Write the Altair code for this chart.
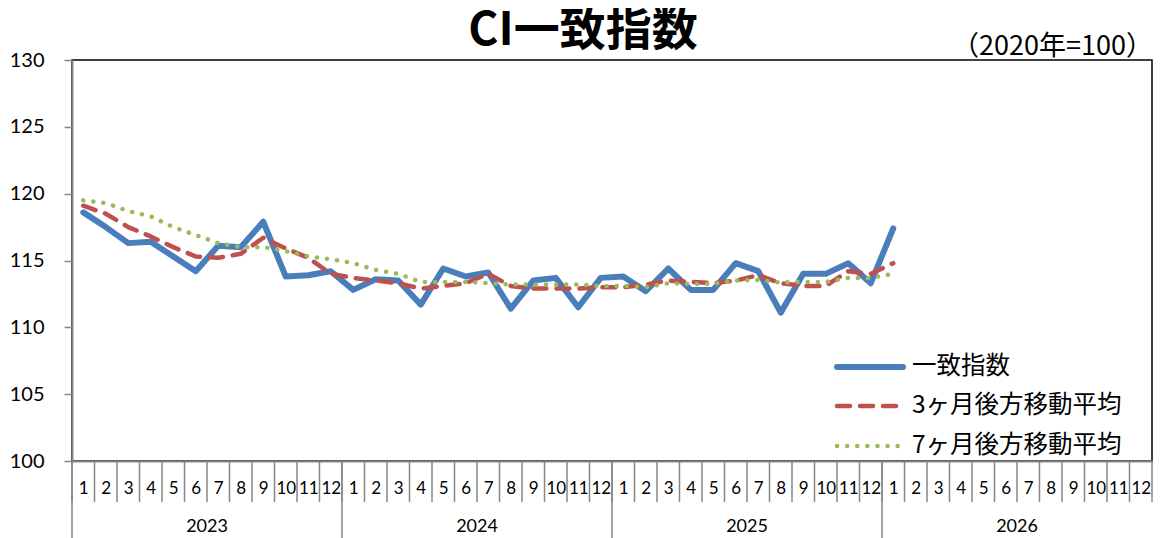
import altair as alt
import pandas as pd

# ---------------- data ----------------
years = [2023, 2024, 2025, 2026]
month_numbers = list(range(1, 13))
series_names = ["一致指数", "3ヶ月後方移動平均", "7ヶ月後方移動平均"]

ci_index = [118.6, 117.5, 116.3, 116.4, 115.3, 114.2, 116.1, 116.0, 117.9, 113.8, 113.9, 114.2,
            112.8, 113.6, 113.5, 111.7, 114.4, 113.8, 114.1, 111.4, 113.5, 113.7, 111.5, 113.7,
            113.8, 112.7, 114.4, 112.8, 112.8, 114.8, 114.2, 111.1, 114.0, 114.0, 114.8, 113.3,
            117.4]
ma3 = [119.1, 118.5, 117.5, 116.8, 116.0, 115.3, 115.2, 115.5, 116.7, 115.9, 115.2, 114.0,
       113.7, 113.5, 113.3, 112.9, 113.1, 113.3, 114.0, 113.1, 112.9, 112.9, 112.9, 113.0,
       113.0, 113.2, 113.5, 113.4, 113.3, 113.5, 113.9, 113.3, 113.1, 113.1, 114.2, 114.0,
       114.8]
ma7 = [119.5, 119.3, 118.7, 118.3, 117.5, 116.9, 116.3, 116.0, 116.0, 115.7, 115.3, 115.1,
       114.8, 114.3, 114.0, 113.4, 113.4, 113.4, 113.3, 113.2, 113.2, 113.2, 113.2, 113.1,
       113.1, 113.0, 113.3, 113.25, 113.25, 113.5, 113.55, 113.35, 113.4, 113.4, 113.7, 113.7,
       114.0]

title_text = "CI一致指数"
unit_text = "（2020年=100）"
y_ticks = [100, 105, 110, 115, 120, 125, 130]

rows = []
for name, vals in zip(series_names, [ci_index, ma3, ma7]):
    for i, v in enumerate(vals):
        rows.append({"series": name, "idx": i, "value": v})
df = pd.DataFrame(rows)

n_months = len(years) * len(month_numbers)
bounds_df = pd.DataFrame({"b": list(range(n_months + 1))})
year_df = pd.DataFrame({"year": [str(y) for y in years], "k": list(range(len(years)))})

# ---------------- styling ----------------
W, H = 1080, 401
GRAY = "#868686"
JP = "Noto Sans CJK JP"
NUM = "Lato"
colors = ["#4A7EBB", "#C0504D", "#9BBB59"]
widths = [6, 4.5, 4.5]
dashes = [None, [13, 10], [0.1, 10]]

xscale = alt.Scale(domain=[0, n_months], nice=False, zero=False)
yscale = alt.Scale(domain=[100, 130], nice=False, zero=False)

xaxis = alt.Axis(values=[i + 0.5 for i in range(n_months)],
                 labelExpr="(floor(datum.value) % 12) + 1",
                 ticks=False, grid=False, domainColor=GRAY, domainWidth=2,
                 labelFont=NUM, labelFontSize=17, labelColor="black",
                 labelPadding=19, labelAngle=0, labelFlush=False,
                 labelOverlap=False, title=None)
yaxis = alt.Axis(values=y_ticks, grid=False, domainColor=GRAY, domainWidth=2,
                 tickColor=GRAY, tickSize=8, tickWidth=1.5,
                 labelFont=NUM, labelFontSize=20, labelColor="black",
                 labelPadding=20, title=None)


def line_layer(k):
    kw = dict(color=colors[k], strokeWidth=widths[k], strokeCap="round", strokeJoin="round")
    if dashes[k] is not None:
        kw["strokeDash"] = dashes[k]
    return (alt.Chart(df)
            .transform_filter(alt.datum.series == series_names[k])
            .transform_calculate(xpos="datum.idx + 0.5")
            .mark_line(**kw)
            .encode(x=alt.X("xpos:Q", scale=xscale, axis=xaxis),
                    y=alt.Y("value:Q", scale=yscale, axis=yaxis)))


lines = [line_layer(k) for k in range(3)]

month_seps = (alt.Chart(bounds_df).mark_rule(color=GRAY, strokeWidth=1.5)
              .encode(x=alt.X("b:Q", scale=xscale, axis=xaxis),
                      y=alt.value(H), y2=alt.value(H + 41)))

year_seps = (alt.Chart(year_df).transform_calculate(b="datum.k * 12")
             .mark_rule(color=GRAY, strokeWidth=1.5)
             .encode(x=alt.X("b:Q", scale=xscale, axis=xaxis),
                     y=alt.value(H), y2=alt.value(H + 77)))

year_labels = (alt.Chart(year_df).transform_calculate(xc="datum.k * 12 + 6")
               .mark_text(font=NUM, fontSize=18, color="black", baseline="middle")
               .encode(x=alt.X("xc:Q", scale=xscale, axis=xaxis),
                       y=alt.value(H + 66), text="year:N"))

title = (alt.Chart(pd.DataFrame({"t": [title_text]}))
         .mark_text(font=JP, fontSize=46, fontWeight="bold", color="black",
                    baseline="alphabetic", align="center")
         .encode(x=alt.value(511), y=alt.value(-15), text="t:N"))

unit = (alt.Chart(pd.DataFrame({"t": [unit_text]}))
        .mark_text(font=JP, fontSize=27, color="black", baseline="alphabetic", align="right")
        .encode(x=alt.value(W + 1), y=alt.value(-5), text="t:N"))

legend_layers = []
legend_rows_y = [307, 346, 386]
for k in range(3):
    ldf = pd.DataFrame({"series": [series_names[k]]})
    kw = dict(color=colors[k], strokeWidth=widths[k], strokeCap="round")
    if dashes[k] is not None:
        kw["strokeDash"] = dashes[k]
    legend_layers.append(alt.Chart(ldf).mark_rule(**kw)
                         .encode(x=alt.value(765), x2=alt.value(831),
                                 y=alt.value(legend_rows_y[k])))
    legend_layers.append(alt.Chart(ldf).mark_text(font=JP, fontSize=24.5, color="black",
                                                  align="left", baseline="middle")
                         .encode(x=alt.value(840), y=alt.value(legend_rows_y[k]),
                                 text="series:N"))

chart = (alt.layer(month_seps, year_seps, year_labels, *lines, *legend_layers, title, unit)
         .properties(width=W, height=H,
                     autosize=alt.AutoSizeParams(type="none"),
                     padding={"left": 64, "top": 52, "right": 1, "bottom": 77},
                     background="white")
         .configure_view(stroke="black", strokeWidth=1.5))

chart.save("out.html", embed_options={"renderer": "svg", "actions": False})
